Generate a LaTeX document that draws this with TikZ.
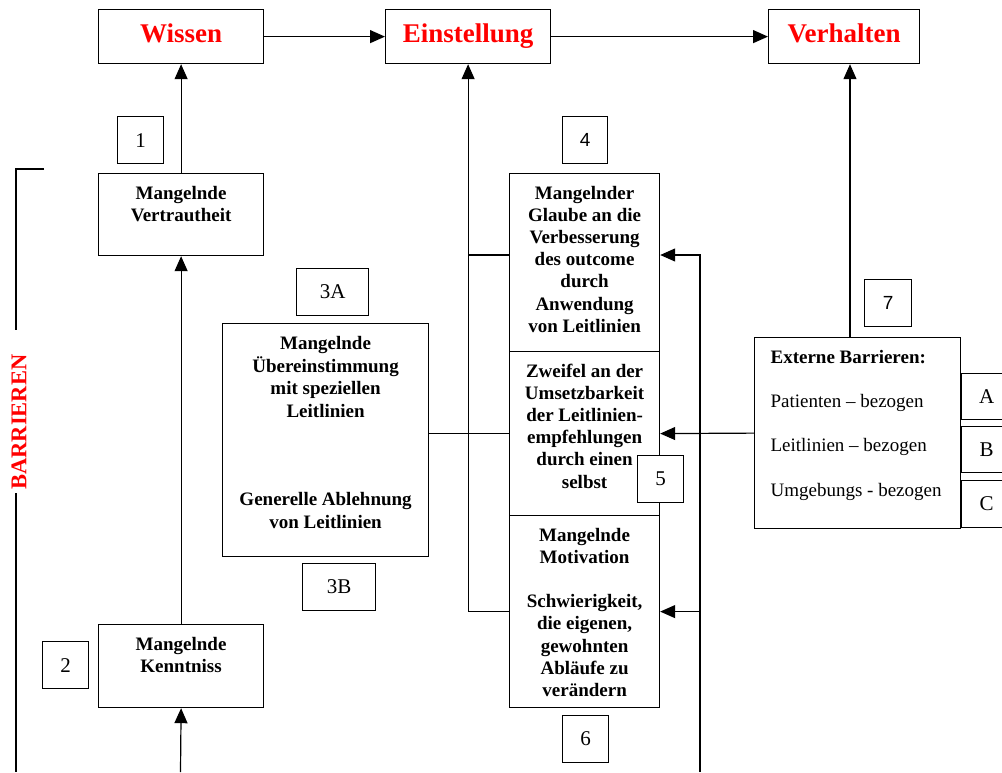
\documentclass[tikz,border=0pt]{standalone}
\usepackage{fontspec}
\setmainfont{Liberation Serif}
\newfontfamily\numsans{Liberation Sans}
\usetikzlibrary{arrows.meta}
\definecolor{headred}{RGB}{255,0,0}
\begin{document}
\begin{tikzpicture}[x=1pt,y=-1pt,
  line width=1.2pt,
  box/.style={draw, line width=1.2pt, rectangle, inner sep=0pt, anchor=north west},
  head/.style={box, font=\bfseries\fontsize{27}{30}\selectfont, text=headred, text height=18pt, text depth=6pt},
  numbox/.style={box, minimum width=46pt, minimum height=47pt, font=\fontsize{21}{24}\selectfont},
  numboxsans/.style={numbox, font=\numsans\fontsize{19}{22}\selectfont},
  boxtext/.style={anchor=north, inner sep=0pt, align=center, font=\bfseries\fontsize{19}{22.2}\selectfont, yshift=-10pt},
  arr/.style={-{Triangle[length=15pt,width=13pt]}, line width=1.2pt},
  ln/.style={line width=1.2pt}
]
\useasboundingbox (0,0) rectangle (1002,772);
\clip (0,0) rectangle (1002,772);

% top row
\node[head, minimum width=165pt, minimum height=54pt] (wissen) at (98,9) {Wissen};
\node[head, minimum width=165pt, minimum height=54pt] (einst) at (385,9) {Einstellung};
\node[head, minimum width=151pt, minimum height=54pt] (verh) at (768,9) {Verhalten};

% left column
\node[numbox] (n1) at (117,116) {1};
\node[box, minimum width=165pt, minimum height=82pt] (vertr) at (98,173) {};
\node[boxtext] (vertrt) at (vertr.north) {\strut Mangelnde\\Vertrautheit};
\node[numbox] (n2) at (42,641) {2};
\node[box, minimum width=165pt, minimum height=83pt] (kennt) at (98,624) {};
\node[boxtext] (kenntt) at (kennt.north) {\strut Mangelnde\\Kenntniss};

% box 3
\node[numbox, minimum width=72pt] (n3A) at (296,268) {3A};
\node[box, minimum width=206pt, minimum height=233pt] (b3) at (222,323) {};
\node[boxtext] (b3t) at (b3.north) {\strut Mangelnde\\Übereinstimmung\\mit speziellen\\Leitlinien\\\strut\\\strut\\\strut\\Generelle Ablehnung\\von Leitlinien};
\node[numbox, minimum width=73pt] (n3B) at (302,563) {3B};

% middle column
\node[numboxsans, minimum width=45pt] (n4) at (562,116) {4};
\node[box, minimum width=150pt, minimum height=178pt] (glaube) at (509,173) {};
\node[boxtext] (glaubet) at (glaube.north) {\strut Mangelnder\\Glaube an die\\Verbesserung\\des outcome\\durch\\Anwendung\\von Leitlinien};
\node[box, minimum width=150pt, minimum height=164pt] (zweifel) at (509,351) {};
\node[boxtext] (zweifelt) at (zweifel.north) {\strut Zweifel an der\\Umsetzbarkeit\\der Leitlinien-\\empfehlungen\\durch einen\\selbst};
\node[box, minimum width=150pt, minimum height=192pt] (motiv) at (509,515) {};
\node[boxtext] (motivt) at (motiv.north) {\strut Mangelnde\\Motivation\\\strut\\Schwierigkeit,\\die eigenen,\\gewohnten\\Abläufe zu\\verändern};
\node[numbox] (n6) at (562,715) {6};

% right column
\node[numboxsans, minimum width=47pt] (n7) at (864,279) {7};
\node[box, minimum width=206pt, minimum height=191pt] (ext) at (754,337) {};
\node[anchor=north west, inner sep=0pt, align=left, font=\fontsize{19}{22.2}\selectfont, xshift=16pt, yshift=-10pt] (extt) at (ext.north west)
  {\strut\textbf{Externe Barrieren:}\\\strut\\Patienten – bezogen\\\strut\\Leitlinien – bezogen\\\strut\\Umgebungs - bezogen};
\node[numbox, minimum width=50pt, minimum height=46pt] (nA) at (961,373) {A};
\node[numbox, minimum width=50pt, minimum height=46pt] (nB) at (961,426) {B};
\node[numbox, minimum width=50pt, minimum height=47pt] (nC) at (961,480) {C};

% bracket and label
\coordinate (brtop) at (44,169);
\coordinate (brbot) at (16,772);
\draw[ln] (brtop) -- (16,169) -- (16,330);
\draw[ln] (16,493) -- (brbot);
\node[rotate=90, text=headred, font=\bfseries\fontsize{22.5}{25}\selectfont, inner sep=0pt] (barr) at (19,422) {BARRIEREN};

% connectors top row
\draw[arr] (wissen.east) -- (einst.west);
\draw[arr] (einst.east) -- (verh.west);

% left chain
\coordinate (kin) at (180.5,772);
\draw[arr] (vertr.north) -- (wissen.south);
\draw[arr] (kennt.north) -- (vertr.south);
\draw[arr] (kin) -- (kennt.south);

% Einstellung collector
\coordinate (ey1) at (0,255);
\draw[arr] (motiv.west) -| (einst.south);
\draw[ln] (glaube.west |- ey1) -- (einst.south |- ey1);
\draw[ln] (b3.east |- zweifel.west) -- (zweifel.west);

% feedback line on the right
\coordinate (fb) at (700,772);
\draw[arr] (fb) |- (glaube.east |- ey1);
\draw[arr] (fb |- motiv.east) -- (motiv.east);
\draw[arr] (ext.west) -- (zweifel.east);

% Verhalten
\coordinate (vx) at (850,0);
\draw[arr] (ext.north -| vx) -- (verh.south -| vx);

% box 5 on top of the Zweifel box
\node[numbox, fill=white] (n5) at (637,455) {5};
\end{tikzpicture}
\end{document}
